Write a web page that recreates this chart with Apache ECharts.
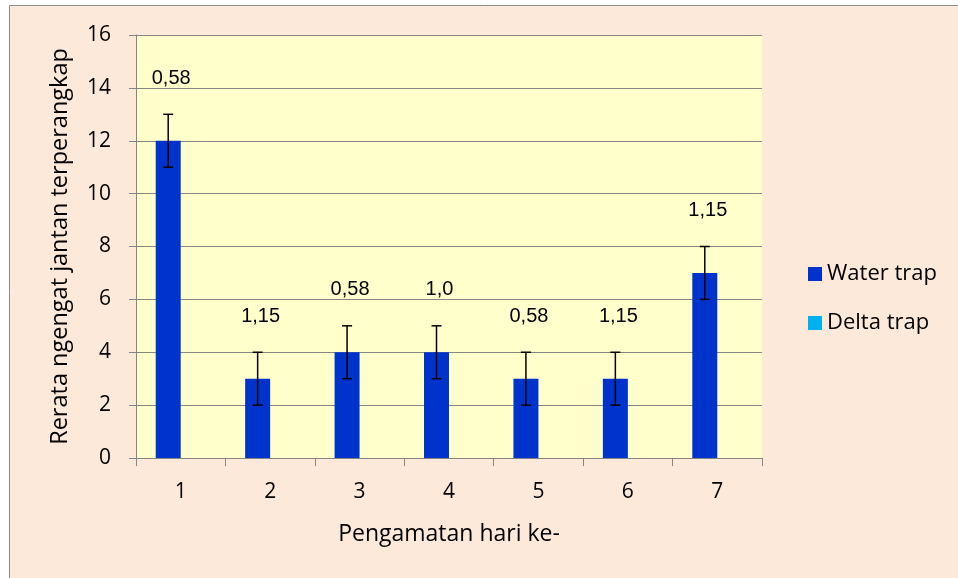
<!DOCTYPE html>
<html><head><meta charset="utf-8">
<script src="https://cdn.jsdelivr.net/npm/echarts@6/dist/echarts.min.js"></script>
<style>html,body{margin:0;padding:0;background:#fff}#c{width:958px;height:578px}</style>
</head><body><div id="c"></div>
<script>
const categories = ['1','2','3','4','5','6','7'];
const waterTrap = [12, 3, 4, 4, 3, 3, 7];
const deltaTrap = [0, 0, 0, 0, 0, 0, 0];
const errorSD = [1, 1, 1, 1, 1, 1, 1];
const errorLabels = ['0,58', '1,15', '0,58', '1,0', '0,58', '1,15', '1,15'];
const yTicks = {min: 0, max: 16, interval: 2};

const chart = echarts.init(document.getElementById('c'));
const sans = '"Open Sans", Lato, sans-serif';

const errData = waterTrap.map((v, i) => [i, v, errorSD[i], errorLabels[i]]);

chart.setOption({
  backgroundColor: '#ffffff',
  animation: false,
  graphic: [{
    type: 'rect', z: -10, silent: true,
    shape: {x: 9.5, y: 5.5, width: 1000, height: 700},
    style: {fill: '#FDE9D9', stroke: '#8c8c8c', lineWidth: 1}
  }],
  grid: {left: 136, right: 196, top: 35, bottom: 120, show: true, backgroundColor: '#FFFFCC', borderWidth: 0},
  legend: {
    orient: 'vertical', left: 803, top: 258, itemWidth: 14, itemHeight: 14, itemGap: 27,
    icon: 'rect',
    textStyle: {fontFamily: sans, fontSize: 22, color: '#000'},
    data: ['Water trap', 'Delta trap']
  },
  xAxis: {
    type: 'category', data: categories,
    name: 'Pengamatan hari ke-', nameLocation: 'middle', nameGap: 65,
    nameTextStyle: {fontFamily: sans, fontSize: 23, color: '#000'},
    axisLine: {lineStyle: {color: '#868686', width: 1}},
    axisTick: {show: true, length: 8, alignWithLabel: false, lineStyle: {color: '#868686'}},
    axisLabel: {fontFamily: sans, fontSize: 21, color: '#000', margin: 24}
  },
  yAxis: {
    type: 'value', min: yTicks.min, max: yTicks.max, interval: yTicks.interval,
    name: 'Rerata ngengat jantan terperangkap', nameLocation: 'middle', nameGap: 64,
    nameTextStyle: {fontFamily: sans, fontSize: 23.5, color: '#000'},
    axisLine: {show: true, lineStyle: {color: '#868686', width: 1}},
    axisTick: {show: true, length: 7, lineStyle: {color: '#868686'}},
    splitLine: {show: true, lineStyle: {color: '#868686', width: 1}},
    axisLabel: {fontFamily: sans, fontSize: 21, color: '#000', margin: 25}
  },
  series: [
    {name: 'Water trap', type: 'bar', data: waterTrap, barWidth: 25, barGap: '0%',
      itemStyle: {color: '#0033CC'}},
    {name: 'Delta trap', type: 'bar', data: deltaTrap, barWidth: 25, barGap: '0%',
      itemStyle: {color: '#00B0F0'}},
    {name: 'err', type: 'custom', data: errData, z: 5,
      renderItem: function (params, api) {
        const i = api.value(0), v = api.value(1), e = api.value(2);
        const cx = api.coord([i, 0])[0] - 12.5;
        const top = api.coord([i, v + e])[1];
        const bot = api.coord([i, v - e])[1];
        const cap = 5;
        const st = {stroke: '#000', lineWidth: 1.5};
        return {type: 'group', children: [
          {type: 'line', shape: {x1: cx, y1: top, x2: cx, y2: bot}, style: st},
          {type: 'line', shape: {x1: cx - cap, y1: top, x2: cx + cap, y2: top}, style: st},
          {type: 'line', shape: {x1: cx - cap, y1: bot, x2: cx + cap, y2: bot}, style: st},
          {type: 'text', x: cx + 3, y: top - 36, style: {
            text: api.value(3), textAlign: 'center', textVerticalAlign: 'middle',
            font: '20px "Liberation Sans", Arial, sans-serif', fill: '#000'}}
        ]};
      }
    }
  ]
});
</script></body></html>
